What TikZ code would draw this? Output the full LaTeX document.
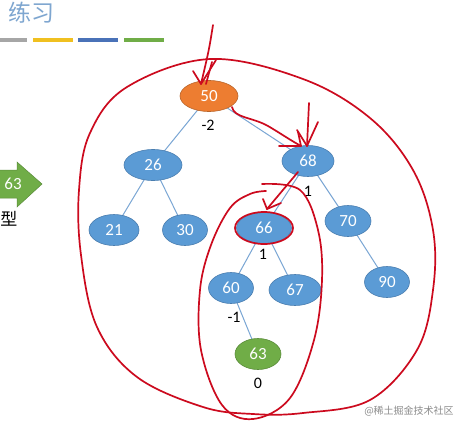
\documentclass[tikz,border=0pt]{standalone}
\usepackage{fontspec}
\setmainfont{Carlito}
\newfontfamily\cjk{Noto Sans CJK SC}
\usetikzlibrary{shapes.geometric,backgrounds}
\definecolor{nodeblue}{HTML}{5B9BD5}
\definecolor{nodeborder}{HTML}{4A7EB0}
\definecolor{nodeorange}{HTML}{ED7D31}
\definecolor{orangeborder}{HTML}{B8642A}
\definecolor{nodegreen}{HTML}{70AD47}
\definecolor{greenborder}{HTML}{5A8C3A}
\definecolor{edgeblue}{HTML}{7AA6D4}
\definecolor{penred}{HTML}{CC0A1E}
\definecolor{titleblue}{HTML}{7EA6D0}
\definecolor{bargray}{HTML}{A6A6A6}
\definecolor{baryellow}{HTML}{F0C020}
\definecolor{barblue}{HTML}{4A72B8}
\begin{document}
\begin{tikzpicture}[x=1pt,y=-1pt,
  tn/.style={ellipse, draw=nodeborder, line width=0.6pt, fill=nodeblue, text=white,
    minimum width=#1, minimum height=31pt, inner sep=0pt, font=\fontsize{17}{17}\selectfont},
  tn/.default=50pt,
  edge/.style={draw=edgeblue, line width=1pt},
  bf/.style={font=\fontsize{16}{16}\selectfont, text=black},
  redpen/.style={draw=penred, line width=1.7pt, line cap=round, line join=round},
  bar/.style={line width=4pt}]
\useasboundingbox (0,0) rectangle (465,431);
% title and bars
\node[text=titleblue, font=\cjk\fontsize{23}{23}\selectfont] (title) at (32,13) {练习};
\draw[bar, bargray] (0,40) -- (27,40);
\draw[bar, baryellow] (33,40) -- (73,40);
\draw[bar, barblue] (78,40) -- (118,40);
\draw[bar, nodegreen] (124,40) -- (164,40);
% left green arrow
\draw[fill=nodegreen, draw=greenborder, line width=0.5pt] (-2,170) -- (17,170) -- (17,162) -- (42,184) -- (17,207) -- (17,198) -- (-2,198) -- cycle;
\node[text=white, font=\fontsize{17}{17}\selectfont] (arrtxt) at (13,184) {63};
\node[font=\cjk\fontsize{17}{17}\selectfont, inner sep=0pt] (xing) at (9,219) {型};
% nodes
\node[tn=58pt, fill=nodeorange, draw=orangeborder] (n50) at (209,96) {50};
\node[tn=58pt] (n26) at (153,165) {26};
\node[tn=52pt] (n68) at (308,161) {68};
\node[tn=50pt] (n21) at (114,230) {21};
\node[tn=45pt] (n30) at (185,230) {30};
\node[tn=55pt] (n66) at (264,228) {66};
\node[tn=46pt] (n70) at (348,221) {70};
\node[tn=45pt] (n60) at (231,288) {60};
\node[tn=52pt] (n67) at (295,290) {67};
\node[tn=45pt] (n90) at (387,282) {90};
\node[tn=46pt, fill=nodegreen, draw=greenborder] (n63) at (258,354) {63};
% edges
\begin{scope}[on background layer]
\fill[white] (0,0) rectangle (465,431);
\draw[edge] (n50.center) -- (n26.center);
\draw[edge] (n50.center) -- (n68.center);
\draw[edge] (n26.center) -- (n21.center);
\draw[edge] (n26.center) -- (n30.center);
\draw[edge] (n68.center) -- (n66.center);
\draw[edge] (n68.center) -- (n70.center);
\draw[edge] (n66.center) -- (n60.center);
\draw[edge] (n66.center) -- (n67.center);
\draw[edge] (n70.center) -- (n90.center);
\draw[edge] (n60.center) -- (n63.center);
\end{scope}
% balance labels
\node[bf] (b50) at (208,125) {-2};
\node[bf] (b68) at (308,191) {1};
\node[bf] (b66) at (263,254) {1};
\node[bf] (b60) at (234,317) {-1};
\node[bf] (b63) at (258,383) {0};
% watermark
\node[text=black!45, font=\cjk\fontsize{10}{10}\selectfont] (wm) at (409,411) {@稀土掘金技术社区};
% red hand drawing
\draw[redpen] plot[smooth cycle, tension=0.6] coordinates {(210,59) (303,79) (370,118) (413,170) (433,230) (433,290) (417,350) (370,400) (303,413) (253,414) (203,407) (137,377) (97,327) (81,255) (79,190) (90,133) (127,87)};
\draw[redpen] plot[smooth, tension=0.6] coordinates {(262,184) (300,190) (318,230) (322,280) (314,340) (290,398) (253,419) (222,405) (201,350) (200,290) (211,245) (230,208) (250,194) (266,191)};
\draw[redpen] (264,228) ellipse [x radius=29, y radius=16];
% arrow into 50
\draw[redpen] (213,25) .. controls (209,50) .. (201,84);
\draw[redpen] (193,71) -- (201,84) -- (216,60);
\draw[redpen] (206,84) -- (212,62);
% curve 50 -> 68
\draw[redpen] (232,107) .. controls (234,118) and (252,117) .. (268,126) .. controls (280,133) and (290,140) .. (301,146);
\draw[redpen] (279,146) -- (301,146) -- (298,132);
% arrow into 68
\draw[redpen] (309,103) -- (307,146);
\draw[redpen] (297,130) -- (307,146) -- (318,122);
% arrow 68 -> 66
\draw[redpen] (298,172) -- (267,209);
\draw[redpen] (263,199) -- (267,209) -- (281,203);
\end{tikzpicture}
\end{document}
